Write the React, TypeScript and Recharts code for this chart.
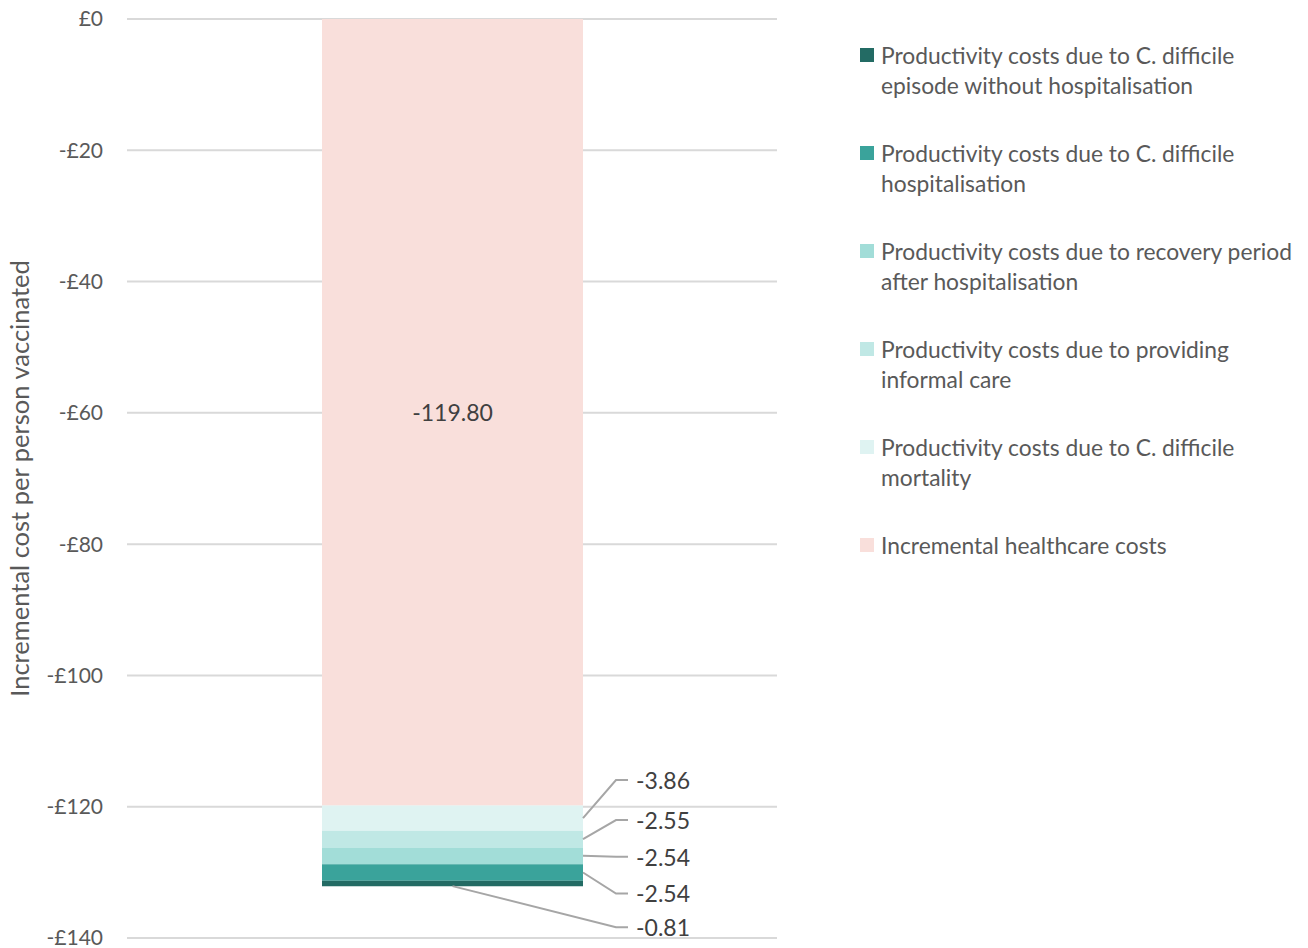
import React from 'react';
import { BarChart, Bar, XAxis, YAxis, CartesianGrid, LabelList } from 'recharts';

const categories = ['Cost'];
const seriesKeys = ['healthcare', 'mortality', 'informal', 'recovery', 'hospitalisation', 'episode'];
const seriesNames = [
  'Incremental healthcare costs',
  'Productivity costs due to C. difficile mortality',
  'Productivity costs due to providing informal care',
  'Productivity costs due to recovery period after hospitalisation',
  'Productivity costs due to C. difficile hospitalisation',
  'Productivity costs due to C. difficile episode without hospitalisation',
];
const legendLines = [
  ['Incremental healthcare costs'],
  ['Productivity costs due to C. difficile', 'mortality'],
  ['Productivity costs due to providing', 'informal care'],
  ['Productivity costs due to recovery period', 'after hospitalisation'],
  ['Productivity costs due to C. difficile', 'hospitalisation'],
  ['Productivity costs due to C. difficile', 'episode without hospitalisation'],
];
const seriesValues = [-119.8, -3.86, -2.55, -2.54, -2.54, -0.81];
const seriesColors = ['#f9dfdb', '#dff3f2', '#c0e8e5', '#a2ddd8', '#3aa39b', '#236b64'];
const yTicks = [0, -20, -40, -60, -80, -100, -120, -140];
// label placement: 'center' inside the segment, or leader line with vertical offset
const labelMode = ['center', 'right', 'right', 'right', 'right', 'bottom'];
const labelDy = [0, -38, -19, 1, 21, 0];

const FONT = 'Lato, "Open Sans", sans-serif';

const data = categories.map((c) => {
  const row: Record<string, any> = { name: c };
  seriesKeys.forEach((k, i) => (row[k] = seriesValues[i]));
  return row;
});

const makeLabel = (idx: number) => (props: any) => {
  const { x, y, width, height, value } = props;
  const top = Math.min(y, y + height);
  const h = Math.abs(height);
  const text = Number(value).toFixed(2);
  if (labelMode[idx] === 'center') {
    return (
      <text x={x + width / 2} y={top + h / 2} textAnchor="middle" dominantBaseline="central" fontSize={23} fill="#404040" fontFamily={FONT}>
        {text}
      </text>
    );
  }
  const right = x + width;
  const kneeX = right + 33;
  const endX = right + 45;
  let sx: number, sy: number, ly: number;
  if (labelMode[idx] === 'bottom') {
    sx = x + width / 2;
    sy = top + h;
    ly = top + h + 41;
  } else {
    sx = right;
    sy = top + h / 2;
    ly = sy + labelDy[idx];
  }
  return (
    <g>
      <polyline points={`${sx},${sy} ${kneeX},${ly} ${endX},${ly}`} fill="none" stroke="#a6a6a6" strokeWidth={2} />
      <text x={endX + 8} y={ly} dominantBaseline="central" fontSize={23} fill="#404040" fontFamily={FONT}>
        {text}
      </text>
    </g>
  );
};

const LegendBox = () => {
  const order = [5, 4, 3, 2, 1, 0];
  return (
    <div style={{ position: 'absolute', left: 860, top: 40, fontFamily: FONT, fontSize: 22.8, color: '#595959' }}>
      {order.map((i) => (
        <div key={i} style={{ position: 'relative', height: 98, lineHeight: '30px' }}>
          <div style={{ position: 'absolute', left: 0, top: 8, width: 14, height: 14, background: seriesColors[i] }} />
          <div style={{ position: 'absolute', left: 21, top: 0, whiteSpace: 'nowrap' }} title={seriesNames[i]}>
            {legendLines[i].map((l, j) => (
              <div key={j}>{l}</div>
            ))}
          </div>
        </div>
      ))}
    </div>
  );
};

export default function App() {
  return (
    <div style={{ position: 'relative', width: 1308, height: 948, margin: '-8px 0 0 -8px', background: '#fff' }}>
      <BarChart width={1308} height={948} data={data} margin={{ top: 19, right: 531, bottom: 10, left: 8 }} barCategoryGap={0}>
        <CartesianGrid horizontal vertical={false} stroke="#d9d9d9" strokeWidth={2} />
        <XAxis dataKey="name" hide />
        <YAxis
          width={119}
          domain={[-140, 0]}
          ticks={yTicks}
          interval={0}
          axisLine={false}
          tickLine={false}
          tickSize={0}
          tickMargin={24}
          tickFormatter={(v: number) => (v === 0 ? '£0' : `-£${Math.abs(v)}`)}
          tick={{ fill: '#595959', fontSize: 21, fontFamily: FONT }}
          label={{ value: 'Incremental cost per person vaccinated', angle: -90, position: 'insideLeft', offset: 12, style: { textAnchor: 'middle', fill: '#595959', fontSize: 25.5, fontFamily: FONT } }}
        />
        {seriesKeys.map((k, i) => (
          <Bar key={k} dataKey={k} name={seriesNames[i]} stackId="a" fill={seriesColors[i]} barSize={261} isAnimationActive={false}>
            <LabelList dataKey={k} content={makeLabel(i)} />
          </Bar>
        ))}
      </BarChart>
      <LegendBox />
    </div>
  );
}
